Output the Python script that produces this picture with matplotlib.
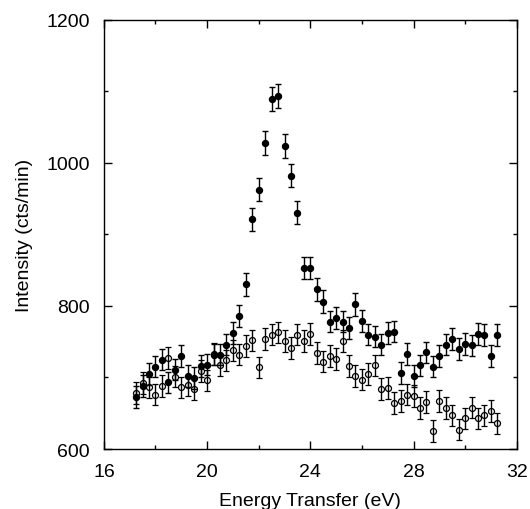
import matplotlib
matplotlib.use("Agg")
import matplotlib.pyplot as plt
from matplotlib.ticker import MultipleLocator

# energy transfer (eV), same grid for both runs
energy = [17.25, 17.5, 17.75, 18.0, 18.25, 18.5, 18.75, 19.0, 19.25, 19.5,
          19.75, 20.0, 20.25, 20.5, 20.75, 21.0, 21.25, 21.5, 21.75, 22.0,
          22.25, 22.5, 22.75, 23.0, 23.25, 23.5, 23.75, 24.0, 24.25, 24.5,
          24.75, 25.0, 25.25, 25.5, 25.75, 26.0, 26.25, 26.5, 26.75, 27.0,
          27.25, 27.5, 27.75, 28.0, 28.25, 28.5, 28.75, 29.0, 29.25, 29.5,
          29.75, 30.0, 30.25, 30.5, 30.75, 31.0, 31.25]

# filled symbols
filled = [673, 688, 705, 715, 725, 693, 711, 730, 702, 699,
          716, 718, 732, 732, 746, 762, 786, 830, 921, 962,
          1028, 1089, 1093, 1023, 982, 930, 853, 853, 823, 806,
          778, 783, 778, 769, 802, 779, 760, 757, 746, 762,
          764, 706, 733, 702, 717, 735, 715, 730, 746, 754,
          740, 747, 745, 761, 759, 730, 759]
filled_err = [15, 15, 15, 15, 15, 15, 15, 15, 15, 15,
              15, 15, 15, 15, 15, 15, 15, 16, 16, 16,
              17, 17, 17, 17, 16, 16, 16, 16, 16, 16,
              15, 15, 15, 15, 16, 15, 15, 15, 15, 15,
              15, 15, 15, 15, 15, 15, 15, 15, 15, 15,
              15, 15, 15, 15, 15, 15, 15]

# open symbols
open_ = [678, 692, 686, 676, 688, 727, 701, 686, 689, 684,
         709, 696, 733, 717, 724, 738, 732, 744, 752, 714,
         754, 760, 763, 751, 741, 760, 751, 761, 734, 722,
         730, 726, 751, 716, 702, 697, 705, 717, 684, 685,
         664, 667, 676, 674, 657, 666, 625, 667, 657, 647,
         627, 643, 658, 643, 647, 653, 636]
open_err = [15, 15, 15, 15, 15, 15, 15, 15, 15, 15,
            15, 15, 15, 15, 15, 15, 15, 15, 15, 15,
            15, 15, 15, 15, 15, 15, 15, 15, 15, 15,
            15, 15, 15, 15, 15, 15, 15, 15, 15, 15,
            15, 15, 15, 15, 15, 15, 15, 15, 15, 15,
            15, 15, 15, 15, 15, 15, 15]

plt.rcParams['font.family'] = ['Liberation Sans', 'DejaVu Sans']

fig = plt.figure(figsize=(5.3, 5.1), dpi=100)
ax = fig.add_axes([0.196, 0.1176, 0.779, 0.842])

ax.errorbar(energy, open_, yerr=open_err, fmt='o', ms=4.3, mfc='none', mec='black',
            mew=0.9, ecolor='black', elinewidth=1.0, capsize=2.2, capthick=1.0)
ax.errorbar(energy, filled, yerr=filled_err, fmt='o', ms=4.3, mfc='black', mec='black',
            ecolor='black', elinewidth=1.0, capsize=2.2, capthick=1.0)

ax.set_xlim(16, 32)
ax.set_ylim(600, 1200)
ax.xaxis.set_major_locator(MultipleLocator(4))
ax.xaxis.set_minor_locator(MultipleLocator(2))
ax.yaxis.set_major_locator(MultipleLocator(200))
ax.yaxis.set_minor_locator(MultipleLocator(100))
ax.tick_params(which='both', direction='in', top=True, right=True, width=1.0)
ax.tick_params(which='major', length=5.5, labelsize=14, pad=10)
ax.tick_params(which='minor', length=3)
for s in ax.spines.values():
    s.set_linewidth(1.0)

ax.set_xlabel('Energy Transfer (eV)', fontsize=14, labelpad=9)
ax.set_ylabel('Intensity (cts/min)', fontsize=14, labelpad=10)

fig.savefig('out.png', dpi=100)
